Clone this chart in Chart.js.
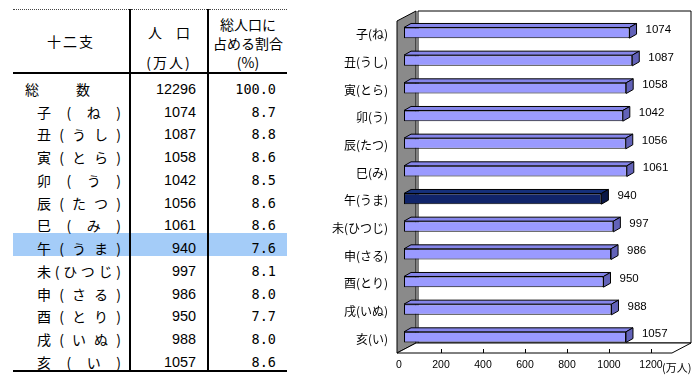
<!DOCTYPE html>
<html lang="ja">
<head>
<meta charset="utf-8">
<title>干支別人口</title>
<script src="https://cdn.jsdelivr.net/npm/chart.js@4"></script>
<style>
  body { margin: 0; width: 700px; height: 382px; background: #fff; position: relative; overflow: hidden; }
  #kanshiTable { position: absolute; left: 13px; top: 9px; width: 274px; border-collapse: collapse; table-layout: fixed;
    font-family: "Noto Sans CJK JP", sans-serif; font-size: 14px; color: #000; }
  #kanshiTable th { font-weight: normal; height: 60px; padding: 0; vertical-align: top;
    border-top: 1px dotted #444; border-bottom: 2px solid #000; }
  #kanshiTable td { height: 22.75px; padding: 0; vertical-align: bottom; line-height: 16px; }
  #kanshiTable tbody tr:last-child td { border-bottom: 2px solid #000; }
  #kanshiTable .c2 { border-left: 2px solid #000; border-right: 2px solid #000; }
  #kanshiTable tr.hl td { background: #a4ccf8; }
  .head1 { padding-top: 22px; line-height: 19px; letter-spacing: 2px; }
  .head2 { padding-top: 13px; line-height: 19px; }
  .head2 .unit { margin-top: 11px; letter-spacing: 2px; }
  .head3 { padding-top: 5px; line-height: 19px; }
  .nm { display: flex; justify-content: space-between; width: 84px; margin-left: 24px; }
  .nm.total { width: 65px; margin-left: 12px; }
  .num { text-align: right; padding-right: 11px !important; font-family: "Liberation Sans", Arial, sans-serif; font-size: 14.4px; }
  .pct { text-align: right; padding-right: 11px !important; font-family: "DejaVu Sans Mono", monospace; font-size: 13.5px; }
  #chartBox { position: absolute; left: 300px; top: 0; width: 400px; height: 382px; }
</style>
</head>
<body>
<table id="kanshiTable">
  <colgroup><col style="width:117px"><col style="width:78px"><col style="width:79px"></colgroup>
  <thead>
    <tr>
      <th><div class="head1">十二支</div></th>
      <th class="c2"><div class="head2"><div>人　口</div><div class="unit">(万人)</div></div></th>
      <th><div class="head3">総人口に<br>占める割合<br>(%)</div></th>
    </tr>
  </thead>
  <tbody></tbody>
</table>
<div id="chartBox"><canvas id="etoChart"></canvas></div>

<script>
// 十二支
const categories = ['子(ね)', '丑(うし)', '寅(とら)', '卯(う)', '辰(たつ)', '巳(み)', '午(うま)', '未(ひつじ)', '申(さる)', '酉(とり)', '戌(いぬ)', '亥(い)'];
// 人口（万人）
const population = [1074, 1087, 1058, 1042, 1056, 1061, 940, 997, 986, 950, 988, 1057];
// 総人口に占める割合（%）
const shares = ['8.7', '8.8', '8.6', '8.5', '8.6', '8.6', '7.6', '8.1', '8.0', '7.7', '8.0', '8.6'];
// 総数
const totalPopulation = 12296;
const totalShare = '100.0';
// 横軸の目盛
const xTicks = [0, 200, 400, 600, 800, 1000, 1200];
const xMax = 1300;
// 強調する干支
const highlight = '午(うま)';

// 奥行き
const WALL_DX = 19, WALL_DY = -10;
const BAR_DX = 7, BAR_DY = -4;
const BAR_SHIFT_X = 5, BAR_SHIFT_Y = -2;

// 色
const barColors = { front: '#9a9aff', top: '#8585ea', side: '#6262b8' };
const hlColors = { front: '#10246a', top: '#15307a', side: '#0a1848' };

// 表の作成
function splitChars(s) {
    return Array.from(s).map(c => `<span>${c}</span>`).join('');
}

function buildTable() {
    const tbody = document.querySelector('#kanshiTable tbody');
    let html = `<tr><td><div class="nm total">${splitChars('総数')}</div></td>` +
        `<td class="c2 num">${totalPopulation}</td><td class="pct">${totalShare}</td></tr>`;
    categories.forEach((name, i) => {
        const cls = name === highlight ? ' class="hl"' : '';
        html += `<tr${cls}><td><div class="nm">${splitChars(name)}</div></td>` +
            `<td class="c2 num">${population[i]}</td><td class="pct">${shares[i]}</td></tr>`;
    });
    tbody.innerHTML = html;
}

function polygon(ctx, pts, fill) {
    ctx.beginPath();
    ctx.moveTo(pts[0][0], pts[0][1]);
    pts.slice(1).forEach(p => ctx.lineTo(p[0], p[1]));
    ctx.closePath();
    ctx.fillStyle = fill;
    ctx.fill();
    ctx.stroke();
}

// 立体風の壁・床・棒の面
const box3d = {
    id: 'box3d',
    beforeDatasetsDraw(chart) {
        const { ctx, chartArea: a, scales: { x } } = chart;
        ctx.save();
        ctx.lineWidth = 1;
        ctx.strokeStyle = '#000';
        // 奥の壁
        polygon(ctx, [[a.left + WALL_DX, a.top + WALL_DY], [a.right + WALL_DX, a.top + WALL_DY],
            [a.right + WALL_DX, a.bottom + WALL_DY], [a.left + WALL_DX, a.bottom + WALL_DY]], '#fff');
        // 左の壁
        polygon(ctx, [[a.left - 2, a.top], [a.left + WALL_DX - 2, a.top + WALL_DY],
            [a.left + WALL_DX - 2, a.bottom + WALL_DY], [a.left - 2, a.bottom]], '#8a8a8a');
        // 床
        polygon(ctx, [[a.left - 2, a.bottom], [a.right, a.bottom],
            [a.right + WALL_DX, a.bottom + WALL_DY], [a.left + WALL_DX - 2, a.bottom + WALL_DY]], '#fff');
        // 目盛線
        xTicks.slice(1).forEach(v => {
            const px = Math.round(x.getPixelForValue(v)) + 0.5;
            ctx.beginPath();
            ctx.moveTo(px, a.bottom);
            ctx.lineTo(px, a.bottom - 4);
            ctx.stroke();
        });
        ctx.restore();
        // 棒を少し奥へ
        ctx.save();
        ctx.translate(BAR_SHIFT_X, BAR_SHIFT_Y);
    },
    afterDatasetsDraw(chart) {
        const { ctx, chartArea: a } = chart;
        const meta = chart.getDatasetMeta(0);
        ctx.lineWidth = 1;
        ctx.strokeStyle = '#000';
        meta.data.forEach((bar, i) => {
            const c = categories[i] === highlight ? hlColors : barColors;
            const top = bar.y - bar.height / 2;
            const bottom = bar.y + bar.height / 2;
            // 上面
            polygon(ctx, [[bar.base, top], [bar.x, top], [bar.x + BAR_DX, top + BAR_DY], [bar.base + BAR_DX, top + BAR_DY]], c.top);
            // 側面
            polygon(ctx, [[bar.x, top], [bar.x + BAR_DX, top + BAR_DY], [bar.x + BAR_DX, bottom + BAR_DY], [bar.x, bottom]], c.side);
        });
        ctx.restore();

        // 数値ラベル
        ctx.save();
        ctx.fillStyle = '#000';
        ctx.font = '11.5px "Liberation Sans Narrow", "Liberation Sans", Arial, sans-serif';
        ctx.textAlign = 'left';
        ctx.textBaseline = 'middle';
        meta.data.forEach((bar, i) => {
            ctx.fillText(String(population[i]), bar.x + 21, bar.y - 5);
        });
        // 単位
        ctx.font = '11px "Noto Sans CJK JP", sans-serif';
        ctx.fillText('(万人)', a.right - 10, a.bottom + 15);
        ctx.restore();
    }
};

function createChart() {
    const ctx = document.getElementById('etoChart');
    new Chart(ctx, {
        type: 'bar',
        data: {
            labels: categories,
            datasets: [{
                data: population,
                backgroundColor: c => categories[c.dataIndex] === highlight ? hlColors.front : barColors.front,
                borderColor: '#000',
                borderWidth: 1,
                borderSkipped: false,
                barPercentage: 0.387,
                categoryPercentage: 1
            }]
        },
        options: {
            indexAxis: 'y',
            responsive: true,
            maintainAspectRatio: false,
            animation: false,
            layout: { padding: { top: 21, right: 28, bottom: 0, left: 0 } },
            plugins: { legend: { display: false }, tooltip: { enabled: false } },
            scales: {
                x: {
                    min: 0,
                    max: xMax,
                    grid: { display: false, drawTicks: false },
                    border: { display: false },
                    afterBuildTicks: s => { s.ticks = xTicks.map(v => ({ value: v })); },
                    ticks: {
                        color: '#000',
                        font: { family: '"Liberation Sans", Arial, sans-serif', size: 10.5 },
                        padding: 6,
                        maxRotation: 0,
                        autoSkip: false,
                        callback: v => String(v)
                    },
                    afterFit: s => { s.height = 29; }
                },
                y: {
                    grid: { display: false, drawTicks: false },
                    border: { display: false },
                    ticks: {
                        color: '#000',
                        font: { family: '"Noto Sans CJK JP", sans-serif', size: 12 },
                        padding: 11
                    },
                    afterFit: s => { s.width = 99; }
                }
            }
        },
        plugins: [box3d]
    });
}

document.addEventListener('DOMContentLoaded', () => {
    buildTable();
    createChart();
});
</script>
</body>
</html>
